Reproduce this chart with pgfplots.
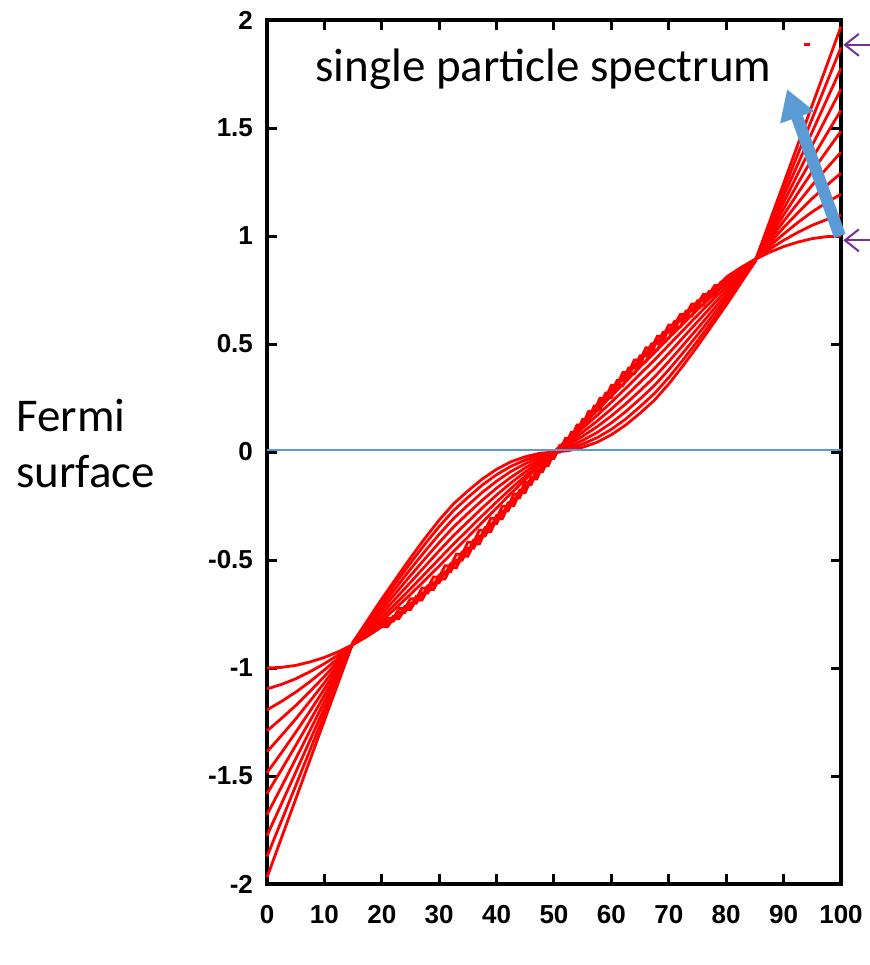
\documentclass[border=0pt]{standalone}
\usepackage{fontspec}
\setmainfont{Carlito}
\newfontfamily\tickfont{Liberation Sans}
\usepackage{pgfplots}
\usepackage{pgfplotstable}
\pgfplotsset{compat=1.18}
\usetikzlibrary{arrows.meta}
\definecolor{officeblue}{HTML}{5B9BD5}
\definecolor{officepurple}{HTML}{7030A0}

% single particle spectrum, one column per coupling
\pgfplotstableread{
x    c0     c1     c2     c3     c4     c5     c6     c7     c8     c9     c10
0    -1.000 -1.097 -1.194 -1.291 -1.388 -1.485 -1.582 -1.679 -1.776 -1.873 -1.970
2.5  -0.997 -1.076 -1.155 -1.234 -1.313 -1.393 -1.472 -1.551 -1.630 -1.709 -1.788
5    -0.988 -1.050 -1.112 -1.174 -1.236 -1.298 -1.359 -1.421 -1.483 -1.545 -1.607
7.5  -0.972 -1.017 -1.063 -1.108 -1.153 -1.199 -1.244 -1.289 -1.334 -1.380 -1.425
10   -0.951 -0.980 -1.009 -1.039 -1.068 -1.097 -1.126 -1.155 -1.185 -1.214 -1.243
12.5 -0.924 -0.938 -0.952 -0.965 -0.979 -0.993 -1.007 -1.021 -1.034 -1.048 -1.062
15   -0.891 -0.891 -0.890 -0.890 -0.889 -0.887 -0.886 -0.884 -0.883 -0.881 -0.880
17.5 -0.853 -0.851 -0.848 -0.844 -0.837 -0.828 -0.818 -0.808 -0.798 -0.788 -0.780
20   -0.809 -0.805 -0.800 -0.792 -0.781 -0.765 -0.747 -0.729 -0.711 -0.694 -0.680
22.5 -0.760 -0.755 -0.748 -0.737 -0.721 -0.700 -0.676 -0.651 -0.627 -0.604 -0.585
25   -0.707 -0.701 -0.692 -0.679 -0.659 -0.633 -0.603 -0.572 -0.542 -0.514 -0.490
27.5 -0.649 -0.642 -0.632 -0.617 -0.594 -0.564 -0.530 -0.495 -0.460 -0.427 -0.400
30   -0.588 -0.580 -0.569 -0.553 -0.528 -0.495 -0.457 -0.419 -0.381 -0.345 -0.315
32.5 -0.523 -0.514 -0.503 -0.486 -0.460 -0.426 -0.387 -0.347 -0.308 -0.271 -0.240
35   -0.454 -0.446 -0.435 -0.418 -0.394 -0.361 -0.323 -0.284 -0.246 -0.210 -0.180
37.5 -0.383 -0.375 -0.365 -0.349 -0.326 -0.295 -0.259 -0.223 -0.187 -0.153 -0.125
40   -0.309 -0.302 -0.293 -0.279 -0.259 -0.231 -0.199 -0.167 -0.135 -0.105 -0.080
42.5 -0.233 -0.228 -0.220 -0.209 -0.192 -0.169 -0.143 -0.117 -0.090 -0.066 -0.045
45   -0.156 -0.152 -0.147 -0.139 -0.127 -0.111 -0.092 -0.073 -0.054 -0.037 -0.022
47.5 -0.079 -0.076 -0.073 -0.069 -0.063 -0.054 -0.044 -0.034 -0.023 -0.014 -0.006
50    0.000  0.000  0.000  0.000  0.000  0.000  0.000  0.000  0.000  0.000  0.000
52.5  0.079  0.076  0.073  0.069  0.063  0.054  0.044  0.034  0.023  0.014  0.006
55    0.156  0.152  0.147  0.139  0.127  0.111  0.092  0.073  0.054  0.037  0.022
57.5  0.233  0.228  0.220  0.209  0.192  0.169  0.143  0.117  0.090  0.066  0.045
60    0.309  0.302  0.293  0.279  0.259  0.231  0.199  0.167  0.135  0.105  0.080
62.5  0.383  0.375  0.365  0.349  0.326  0.295  0.259  0.223  0.187  0.153  0.125
65    0.454  0.446  0.435  0.418  0.394  0.361  0.323  0.284  0.246  0.210  0.180
67.5  0.523  0.514  0.503  0.486  0.460  0.426  0.387  0.347  0.308  0.271  0.240
70    0.588  0.580  0.569  0.553  0.528  0.495  0.457  0.419  0.381  0.345  0.315
72.5  0.649  0.642  0.632  0.617  0.594  0.564  0.530  0.495  0.460  0.427  0.400
75    0.707  0.701  0.692  0.679  0.659  0.633  0.603  0.572  0.542  0.514  0.490
77.5  0.760  0.755  0.748  0.737  0.721  0.700  0.676  0.651  0.627  0.604  0.585
80    0.809  0.805  0.800  0.792  0.781  0.765  0.747  0.729  0.711  0.694  0.680
82.5  0.853  0.851  0.848  0.844  0.837  0.828  0.818  0.808  0.798  0.788  0.780
85    0.891  0.891  0.890  0.890  0.889  0.887  0.886  0.884  0.883  0.881  0.880
87.5  0.924  0.938  0.952  0.965  0.979  0.993  1.007  1.021  1.034  1.048  1.062
90    0.951  0.980  1.009  1.039  1.068  1.097  1.126  1.155  1.185  1.214  1.243
92.5  0.972  1.017  1.063  1.108  1.153  1.199  1.244  1.289  1.334  1.380  1.425
95    0.988  1.050  1.112  1.174  1.236  1.298  1.359  1.421  1.483  1.545  1.607
97.5  0.997  1.076  1.155  1.234  1.313  1.393  1.472  1.551  1.630  1.709  1.788
100   1.000  1.097  1.194  1.291  1.388  1.485  1.582  1.679  1.776  1.873  1.970
}\spectrum

% the four weakest couplings between 20 and 80, read point by point (jagged steps)
\pgfplotstableread{
x   s0      s1      s2      s3
20  -0.809  -0.805  -0.800  -0.792
21  -0.809  -0.784  -0.800  -0.770
22  -0.771  -0.784  -0.760  -0.770
23  -0.771  -0.743  -0.760  -0.725
24  -0.729  -0.743  -0.715  -0.725
25  -0.729  -0.700  -0.715  -0.679
26  -0.685  -0.700  -0.668  -0.679
27  -0.685  -0.653  -0.668  -0.630
28  -0.637  -0.653  -0.619  -0.630
29  -0.637  -0.605  -0.619  -0.579
30  -0.588  -0.605  -0.569  -0.579
31  -0.588  -0.554  -0.569  -0.527
32  -0.536  -0.554  -0.517  -0.527
33  -0.536  -0.501  -0.517  -0.473
34  -0.482  -0.501  -0.463  -0.473
35  -0.482  -0.446  -0.463  -0.418
36  -0.426  -0.446  -0.407  -0.418
37  -0.426  -0.389  -0.407  -0.362
38  -0.368  -0.389  -0.350  -0.362
39  -0.368  -0.332  -0.350  -0.307
40  -0.309  -0.332  -0.293  -0.307
41  -0.309  -0.273  -0.293  -0.251
42  -0.249  -0.273  -0.235  -0.251
43  -0.249  -0.213  -0.235  -0.195
44  -0.187  -0.213  -0.176  -0.195
45  -0.187  -0.152  -0.176  -0.139
46  -0.125  -0.152  -0.118  -0.139
47  -0.125  -0.091  -0.118  -0.083
48  -0.063  -0.091  -0.059  -0.083
49  -0.063  -0.030  -0.059  -0.027
50   0.000  -0.030   0.000  -0.027
51   0.000   0.030   0.000   0.027
52   0.063   0.030   0.059   0.027
53   0.063   0.091   0.059   0.083
54   0.125   0.091   0.118   0.083
55   0.125   0.152   0.118   0.139
56   0.187   0.152   0.176   0.139
57   0.187   0.213   0.176   0.195
58   0.249   0.213   0.235   0.195
59   0.249   0.273   0.235   0.251
60   0.309   0.273   0.293   0.251
61   0.309   0.332   0.293   0.307
62   0.368   0.332   0.350   0.307
63   0.368   0.389   0.350   0.362
64   0.426   0.389   0.407   0.362
65   0.426   0.446   0.407   0.418
66   0.482   0.446   0.463   0.418
67   0.482   0.501   0.463   0.473
68   0.536   0.501   0.517   0.473
69   0.536   0.554   0.517   0.527
70   0.588   0.554   0.569   0.527
71   0.588   0.605   0.569   0.579
72   0.637   0.605   0.619   0.579
73   0.637   0.653   0.619   0.630
74   0.685   0.653   0.668   0.630
75   0.685   0.700   0.668   0.679
76   0.729   0.700   0.715   0.679
77   0.729   0.743   0.715   0.725
78   0.771   0.743   0.760   0.725
79   0.771   0.784   0.760   0.770
80   0.809   0.805   0.800   0.792
}\steps

\begin{document}
\begin{tikzpicture}
\begin{axis}[
  at={(0,0)}, anchor=south west,
  scale only axis, width=287pt, height=432pt,
  xmin=0, xmax=100, ymin=-2, ymax=2,
  xtick={0,10,20,30,40,50,60,70,80,90,100},
  xticklabels={0,10,20,30,40,50,60,70,80,90,100},
  ytick={-2,-1.5,-1,-0.5,0,0.5,1,1.5,2},
  yticklabels={-2,-1.5,-1,-0.5,0,0.5,1,1.5,2},
  tick label style={font=\tickfont\bfseries\fontsize{13}{15}\selectfont},
  xticklabel style={yshift=-7pt},
  yticklabel style={xshift=-3.5pt},
  axis line style={line width=1.6pt},
  major tick style={line width=1.5pt, black},
  major tick length=5pt,
  tick align=inside,
  clip=false,
]
\pgfplotsinvokeforeach{4,...,10}{
  \addplot[red, line width=1.4pt] table[x=x, y=c#1] {\spectrum};
}
\pgfplotsinvokeforeach{0,...,3}{
  \addplot[red, line width=1.4pt, restrict x to domain=0:20] table[x=x, y=c#1] {\spectrum};
  \addplot[red, line width=1.4pt, restrict x to domain=80:100] table[x=x, y=c#1] {\spectrum};
  \addplot[red, line width=1.4pt] table[x=x, y=s#1] {\steps};
}
\addplot[red, line width=1.5pt] coordinates {(93.6,1.885) (94.6,1.885)};
\addplot[officeblue, line width=1pt] coordinates {(0,0.01) (100,0.01)};
\draw[officeblue, line width=6pt, -{Triangle[width=17pt,length=15pt]}]
  (axis cs:99.8,1.0) -- (axis cs:90.6,1.68);
\draw[officepurple, line width=1pt, -{Straight Barb[length=7pt,width=11pt]}]
  (axis cs:105.2,1.885) -- (axis cs:100.4,1.885);
\draw[officepurple, line width=1pt, -{Straight Barb[length=7pt,width=11pt]}]
  (axis cs:105.2,0.98) -- (axis cs:100.4,0.98);
\end{axis}
\node[anchor=base west, inner sep=0, font=\fontsize{23.5}{28}\selectfont] at (24pt,401pt) {single particle spectrum};
\node[anchor=base west, inner sep=0, font=\fontsize{23.5}{28}\selectfont] at (-125.5pt,226pt) {Fermi};
\node[anchor=base west, inner sep=0, font=\fontsize{23.5}{28}\selectfont] at (-125.5pt,198.4pt) {surface};
\pgfresetboundingbox
\path[use as bounding box] (-133.5pt,-40.5pt) rectangle (301.5pt,442pt);
\end{tikzpicture}
\end{document}
